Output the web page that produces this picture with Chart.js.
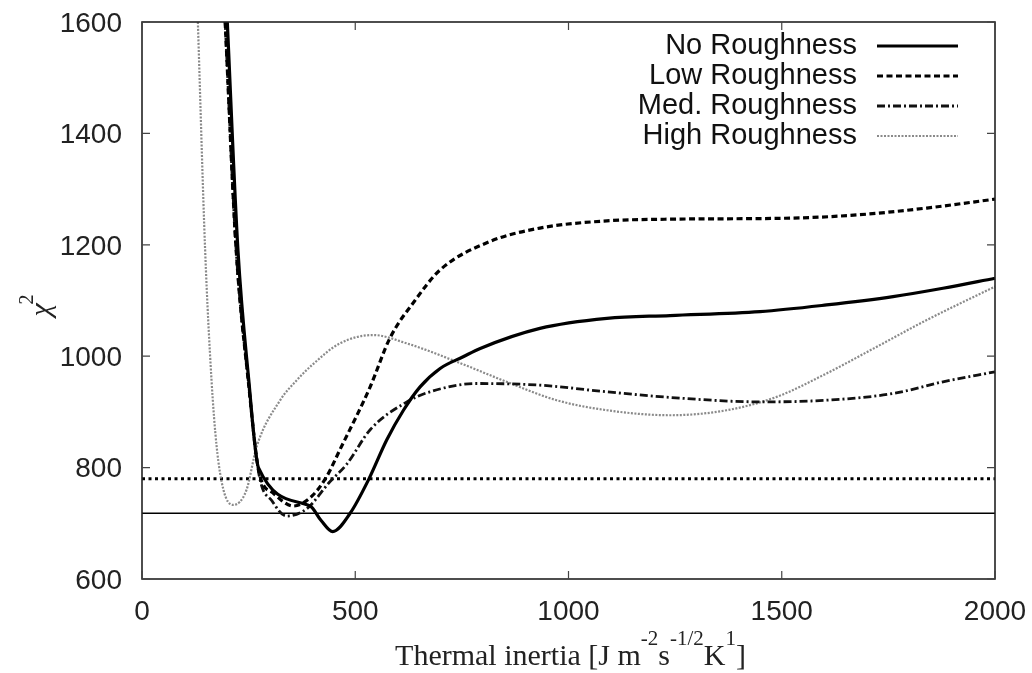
<!DOCTYPE html>
<html>
<head>
<meta charset="utf-8">
<script src="https://cdn.jsdelivr.net/npm/chart.js@4"></script>
<style>
html,body{margin:0;padding:0;background:#fff;}
#wrap{width:1032px;height:673px;position:relative;}
</style>
</head>
<body>
<div id="wrap"><canvas id="c" width="1032" height="673"></canvas></div>
<script>
// ---- data ----
const xTicks = [0, 500, 1000, 1500, 2000];
const yTicks = [600, 800, 1000, 1200, 1400, 1600];

const seriesNames = ["No Roughness", "Low Roughness", "Med. Roughness", "High Roughness"];

const noRoughX = [200, 225, 250, 273, 394, 420, 447, 488, 531, 574, 613, 652, 699, 753, 793, 933, 1090, 1238, 1449, 1605, 1761, 1878, 2000];
const noRoughY = [1600, 1190, 960, 800, 731, 705, 685, 718, 778, 850, 903, 945, 978, 999, 1014, 1050, 1068, 1073, 1080, 1092, 1107, 1122, 1140];

const lowRoughX = [195, 220, 250, 275, 308, 355, 400, 433, 464, 535, 581, 640, 699, 816, 933, 1090, 1238, 1527, 1683, 1840, 2000];
const lowRoughY = [1600, 1200, 950, 790, 754, 731, 750, 784, 832, 945, 1032, 1100, 1155, 1206, 1230, 1243, 1246, 1248, 1254, 1266, 1282];

const medRoughX = [195, 220, 250, 275, 305, 339, 386, 441, 480, 535, 621, 675, 785, 933, 1090, 1238, 1449, 1605, 1761, 1878, 2000];
const medRoughY = [1600, 1200, 950, 785, 740, 713, 726, 775, 806, 868, 918, 936, 951, 948, 936, 926, 918, 921, 933, 954, 972];

const highRoughX = [131, 148, 163, 175, 191, 214, 245, 269, 324, 363, 400, 464, 542, 621, 738, 855, 972, 1090, 1238, 1371, 1488, 1605, 1723, 1840, 2000];
const highRoughY = [1600, 1191, 957, 838, 760, 733, 760, 838, 921, 957, 985, 1023, 1038, 1023, 990, 954, 921, 903, 894, 903, 927, 969, 1017, 1065, 1125];

const refLevels = [780, 718];
const xRange = [0, 2000];
const yRange = [600, 1600];

// ---- build ----
function zip(xs, ys){ return xs.map((x,i)=>({x:x, y:ys[i]})); }

const styles = [
  {borderColor:'#000', borderWidth:3.2, borderDash:[]},
  {borderColor:'#000', borderWidth:3.2, borderDash:[6,3.5]},
  {borderColor:'#111', borderWidth:2.8, borderDash:[8,3,2,3]},
  {borderColor:'#8a8a8a', borderWidth:2.2, borderDash:[2,1.5]}
];
const seriesX = [noRoughX, lowRoughX, medRoughX, highRoughX];
const seriesY = [noRoughY, lowRoughY, medRoughY, highRoughY];

const datasets = seriesNames.map((name,i)=>Object.assign({
  label:name,
  data:zip(seriesX[i], seriesY[i]),
  pointRadius:0,
  fill:false,
  cubicInterpolationMode:'monotone',
  clip:2
}, styles[i]));

datasets.push({label:'ref1', data:zip(xRange,[refLevels[0],refLevels[0]]), borderColor:'#000', borderWidth:2.8, borderDash:[3,3.5], pointRadius:0, fill:false});
datasets.push({label:'ref2', data:zip(xRange,[refLevels[1],refLevels[1]]), borderColor:'#000', borderWidth:1.6, pointRadius:0, fill:false});

const SANS = '"Liberation Sans", Arial, Helvetica, sans-serif';
const SERIF = '"Liberation Serif", "Times New Roman", serif';

const frame = {
  id:'frame',
  afterDatasetsDraw(chart){
    const {ctx, chartArea:a, scales:{x,y}} = chart;
    ctx.save();
    ctx.strokeStyle='#222'; ctx.lineWidth=1.6; ctx.setLineDash([]);
    ctx.strokeRect(a.left, a.top, a.right-a.left, a.bottom-a.top);
    ctx.lineWidth=1.2; ctx.strokeStyle='#444';
    const tl=8;
    ctx.fillStyle='#222';
    ctx.font='28px ' + SANS;
    xTicks.forEach(v=>{
      const px=x.getPixelForValue(v);
      ctx.beginPath(); ctx.moveTo(px,a.bottom); ctx.lineTo(px,a.bottom-tl);
      ctx.moveTo(px,a.top); ctx.lineTo(px,a.top+tl); ctx.stroke();
      ctx.textAlign='center'; ctx.textBaseline='middle';
      ctx.fillText(String(v), px, a.bottom+33);
    });
    yTicks.forEach(v=>{
      const py=y.getPixelForValue(v);
      ctx.beginPath(); ctx.moveTo(a.left,py); ctx.lineTo(a.left+tl,py);
      ctx.moveTo(a.right,py); ctx.lineTo(a.right-tl,py); ctx.stroke();
      ctx.textAlign='right'; ctx.textBaseline='middle';
      ctx.fillText(String(v), a.left-20, py+2);
    });
    // legend
    ctx.font='29px ' + SANS;
    ctx.fillStyle='#111'; ctx.textAlign='right'; ctx.textBaseline='middle';
    const rows=[46,76,106,136];
    seriesNames.forEach((n,i)=>{
      ctx.fillText(n, 857, rows[i]);
      const s=styles[i];
      ctx.strokeStyle=s.borderColor; ctx.lineWidth=s.borderWidth; ctx.setLineDash(s.borderDash);
      ctx.beginPath(); ctx.moveTo(877, rows[i]); ctx.lineTo(958, rows[i]); ctx.stroke();
    });
    ctx.setLineDash([]);
    // x title with superscripts
    ctx.fillStyle='#222'; ctx.textAlign='left'; ctx.textBaseline='alphabetic';
    const big='30px ' + SERIF;
    const small='21px ' + SERIF;
    const parts=[["Thermal inertia [J m",big,0],["-2",small,-20],["s",big,0],["-1/2",small,-20],["K",big,0],["1",small,-20],["]",big,0]];
    let w=0;
    parts.forEach(p=>{ctx.font=p[1]; w+=ctx.measureText(p[0]).width;});
    let cx=(a.left+a.right)/2 - w/2 + 2;
    const base=665;
    parts.forEach(p=>{ctx.font=p[1]; ctx.fillText(p[0], cx, base+p[2]); cx+=ctx.measureText(p[0]).width;});
    // y title chi^2
    ctx.translate(50, 310); ctx.rotate(-Math.PI/2);
    ctx.font='italic 30px ' + SERIF;
    ctx.textAlign='center';
    ctx.fillText('\u03C7', 0, 0);
    const cw=ctx.measureText('\u03C7').width;
    ctx.font='20px ' + SERIF;
    ctx.textAlign='left';
    ctx.fillText('2', cw/2 - 1, -17);
    ctx.restore();
  }
};

new Chart(document.getElementById('c'), {
  type:'line',
  data:{datasets},
  options:{
    responsive:false,
    animation:false,
    layout:{padding:{top:22, right:37, left:0, bottom:0}},
    plugins:{legend:{display:false}, tooltip:{enabled:false}},
    scales:{
      x:{type:'linear', min:xRange[0], max:xRange[1],
        afterFit(s){ s.height = 94; },
        grid:{display:false, drawTicks:false},
        border:{display:false},
        ticks:{display:false}
      },
      y:{type:'linear', min:yRange[0], max:yRange[1],
        afterFit(s){ s.width = 142; },
        grid:{display:false, drawTicks:false},
        border:{display:false},
        ticks:{display:false}
      }
    }
  },
  plugins:[frame]
});
</script>
</body>
</html>
